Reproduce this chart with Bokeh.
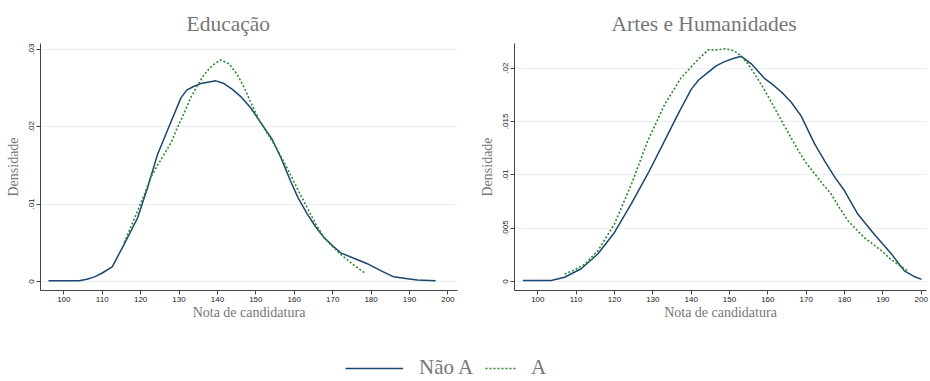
from bokeh.plotting import figure
from bokeh.models import Range1d, FixedTicker, CustomJSTickFormatter, Legend, LegendItem, Title
from bokeh.layouts import column, row
from bokeh.embed import file_html
from bokeh.resources import INLINE

# ---------------- data ----------------
titles = ["Educação", "Artes e Humanidades"]
x_label = "Nota de candidatura"
y_label = "Densidade"
series_names = ["Não A", "A"]
x_ticks = [100, 110, 120, 130, 140, 150, 160, 170, 180, 190, 200]
edu_y_ticks = [0, 0.01, 0.02, 0.03]
art_y_ticks = [0, 0.005, 0.01, 0.015, 0.02]

edu_nao_x = [96, 100, 104, 106, 108, 110, 112.6, 115.7, 119.2, 121.8, 124.4, 127.4, 130.5, 132, 133.9, 136,
             139.6, 141.5, 143.9, 146, 148.7, 151, 154.3, 156.5, 159, 161, 163.4, 165.5, 167.7, 170, 172.1,
             175.5, 179, 182.5, 185.9, 189, 192, 196.8]
edu_nao_y = [0.0001, 0.0001, 0.0001, 0.0003, 0.0006, 0.0011, 0.0019, 0.0048, 0.0082, 0.0121, 0.0164, 0.0200,
             0.0237, 0.0247, 0.0252, 0.0256, 0.0259, 0.0256, 0.0248, 0.0239, 0.0224, 0.0207, 0.0183, 0.0160,
             0.0130, 0.0108, 0.0087, 0.0071, 0.0057, 0.0046, 0.0037, 0.0030, 0.0023, 0.0014, 0.0006, 0.0004,
             0.0002, 0.0001]
edu_a_x = [115.7, 117.5, 119.2, 121, 122.6, 124.4, 126.1, 128, 129.5, 131.2, 133, 134.8, 136.5, 138.7, 140.8,
           143, 145.2, 147, 148.6, 151, 154.3, 156.7, 159, 161.2, 163.4, 165.5, 167.7, 170, 172.1, 175.3, 178.6]
edu_a_y = [0.0050, 0.0071, 0.0091, 0.0113, 0.0134, 0.0150, 0.0164, 0.0180, 0.0198, 0.0216, 0.0237, 0.0253,
           0.0267, 0.0279, 0.0286, 0.0281, 0.0267, 0.0250, 0.0232, 0.0207, 0.0181, 0.0160, 0.0138, 0.0116,
           0.0095, 0.0075, 0.0057, 0.0045, 0.0035, 0.0022, 0.0010]

art_nao_x = [96.1, 100, 103.5, 107, 111.3, 115.7, 120, 124.4, 128.7, 133.1, 136.6, 140, 142, 144.4, 146.5,
             148.7, 151, 153.1, 155.7, 159.2, 161.8, 164, 166.1, 168.7, 172.2, 174.8, 177.4, 180, 183.5, 187.8,
             192.2, 195.6, 198, 200.1]
art_nao_y = [0.0001, 0.0001, 0.0001, 0.0004, 0.0012, 0.0026, 0.0046, 0.0073, 0.0101, 0.0132, 0.0157, 0.0180,
             0.0189, 0.0196, 0.0202, 0.0206, 0.0209, 0.0211, 0.0204, 0.0190, 0.0183, 0.0176, 0.0168, 0.0155,
             0.0129, 0.0113, 0.0098, 0.0085, 0.0063, 0.0044, 0.0026, 0.0010, 0.0005, 0.0002]
art_a_x = [107, 109.6, 112.2, 115.7, 120, 124.4, 128.7, 133.1, 137.4, 141.8, 144.4, 146.5, 148.7, 150.5, 152.2,
           154.8, 157, 159.2, 161.4, 163.5, 165.7, 167.9, 170, 172.2, 174.4, 176.5, 178.7, 180.9, 183, 185.2,
           187.4, 189.6, 191.7, 193.9, 196.5]
art_a_y = [0.0007, 0.0011, 0.0016, 0.0029, 0.0054, 0.0091, 0.0132, 0.0166, 0.0191, 0.0208, 0.0217, 0.0217,
           0.0218, 0.0217, 0.0214, 0.0204, 0.0192, 0.0179, 0.0165, 0.0151, 0.0137, 0.0123, 0.0111, 0.0101,
           0.0091, 0.0082, 0.0069, 0.0057, 0.0049, 0.0041, 0.0035, 0.0029, 0.0022, 0.0016, 0.0010]

# ---------------- style ----------------
NAVY = "#1a476f"
GREEN = "#2a8a2a"
TEXT_GRAY = "#777777"
SERIF = "Liberation Serif"
SANS = "Liberation Sans"

fmt_code = """
if (Math.abs(tick) < 1e-12) return "0";
let s = tick.toFixed(3).replace(/0+$/, "");
return s.replace(/^0/, "");
"""

PANEL_H = 330


def make_panel(title, xs_n, ys_n, xs_a, ys_a, yticks, xr, yr, width, left, right, top, frame_h, t_off):
    p = figure(width=width, height=PANEL_H, output_backend="svg", toolbar_location=None,
               x_range=Range1d(*xr), y_range=Range1d(*yr),
               min_border_left=left, min_border_right=right, min_border_top=top,
               min_border_bottom=PANEL_H - top - frame_h)
    p.outline_line_color = None
    p.background_fill_color = "white"
    p.border_fill_color = "white"
    p.xgrid.grid_line_color = None
    p.ygrid.grid_line_color = "#e6eff1"
    p.ygrid.grid_line_width = 1
    p.xaxis.ticker = FixedTicker(ticks=x_ticks)
    p.yaxis.ticker = FixedTicker(ticks=yticks)
    p.ygrid.ticker = FixedTicker(ticks=yticks)
    p.yaxis.formatter = CustomJSTickFormatter(code=fmt_code)
    p.yaxis.major_label_orientation = "vertical"
    p.xaxis.axis_label = x_label
    p.yaxis.axis_label = y_label
    for ax in (p.xaxis[0], p.yaxis[0]):
        ax.axis_line_color = "#444444"
        ax.axis_line_width = 1
        ax.major_tick_line_color = "#444444"
        ax.major_tick_out = 4
        ax.major_tick_in = 0
        ax.minor_tick_line_color = None
        ax.major_label_text_font = SANS
        ax.major_label_text_font_size = "8px"
        ax.major_label_text_color = "#222222"
        ax.major_label_standoff = 2
        ax.axis_label_text_font = SERIF
        ax.axis_label_text_font_size = "14px"
        ax.axis_label_text_font_style = "normal"
        ax.axis_label_text_color = TEXT_GRAY
    p.xaxis.axis_label_standoff = 0
    p.yaxis.axis_label_standoff = 6

    p.line(xs_n, ys_n, line_color=NAVY, line_width=1.5)
    p.line(xs_a, ys_a, line_color=GREEN, line_width=1.6, line_dash="2 2")

    p.add_layout(Title(text=title, align="left", offset=t_off, standoff=16, vertical_align="bottom",
                       text_font=SERIF, text_font_size="21.5px", text_font_style="normal",
                       text_color=TEXT_GRAY), "above")
    return p


p1 = make_panel(titles[0], edu_nao_x, edu_nao_y, edu_a_x, edu_a_y, edu_y_ticks,
                (93.93, 202.5), (-0.00116, 0.03072), width=470, left=40, right=13, top=42, frame_h=248,
                t_off=146)
p2 = make_panel(titles[1], art_nao_x, art_nao_y, art_a_x, art_a_y, art_y_ticks,
                (93.92, 201.38), (-0.00084, 0.0223), width=460, left=44, right=4, top=43, frame_h=247,
                t_off=97)

# legend panel (legend proxies drawn outside the visible range)
p3 = figure(width=930, height=51, output_backend="svg", toolbar_location=None,
            x_range=Range1d(0, 1), y_range=Range1d(0, 1), x_axis_location=None, y_axis_location=None,
            min_border=0)
p3.outline_line_color = None
p3.grid.visible = False
r1 = p3.line([5, 6], [5, 6], line_color=NAVY, line_width=1.5)
r2 = p3.line([5, 6], [5, 6], line_color=GREEN, line_width=1.6, line_dash="2 2")
common = dict(glyph_height=20, padding=0, margin=0, spacing=0, border_line_color=None,
              background_fill_alpha=0, label_text_font=SERIF, label_text_font_size="21px",
              label_text_color=TEXT_GRAY, label_height=20)
leg1 = Legend(items=[LegendItem(label=series_names[0], renderers=[r1])], location=(345, 1),
              glyph_width=58, label_standoff=16, **common)
leg2 = Legend(items=[LegendItem(label=series_names[1], renderers=[r2])], location=(485, 1),
              glyph_width=32, label_standoff=14, **common)
p3.add_layout(leg1)
p3.add_layout(leg2)

layout = column(row(p1, p2), p3)
open("out.html", "w").write(file_html(layout, INLINE))
